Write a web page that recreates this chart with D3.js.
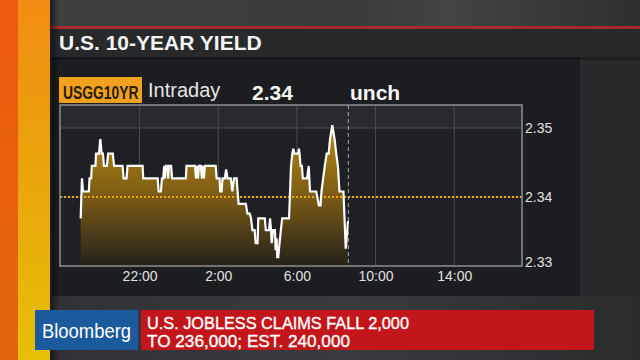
<!DOCTYPE html>
<html><head><meta charset="utf-8">
<script src="https://cdn.jsdelivr.net/npm/d3@7"></script>
<style>html,body{margin:0;padding:0;background:#2c2d30;overflow:hidden}svg{display:block}</style>
</head><body>
<svg id="c" width="640" height="360"></svg>
<script>
// ---- data ----
const times = ["19:00","19:04","19:07","19:25","19:27","19:32","19:34","19:45","19:47","19:56",
"20:00","20:04","20:08","20:11","20:20","20:24","20:38","20:42","21:08","21:11",
"21:20","21:23","22:09","22:11","22:55","22:58","23:05","23:08","23:12","23:15",
"23:17","23:20","23:25","23:27","23:29","23:36","23:39","00:21","00:23","00:49",
"00:52","00:55","00:58","01:01","01:07","01:10","01:13","01:16","01:19","01:52",
"01:55","02:04","02:06","02:10","02:13","02:20","02:24","02:28","02:38","02:43",
"02:48","02:56","02:59","03:02","03:24","03:29","03:36","03:40","03:44","03:51",
"03:54","04:00","04:02","04:22","04:25","04:35","04:38","04:41","04:43","04:47",
"04:53","04:55","04:58","05:00","05:03","05:07","05:11","05:15","05:36","05:42",
"05:46","05:49","05:52","06:04","06:06","06:08","06:11","06:15","06:18","06:31",
"06:36","06:40","06:59","07:07","07:12","07:15","07:25","07:31","07:37","07:41",
"07:48","07:55","08:00","08:05","08:10","08:22","08:29","08:36"];
const yields = [2.3369,2.3427,2.3408,2.3408,2.3427,2.3427,2.3445,2.3445,2.3463,2.3463,
2.3484,2.3463,2.3463,2.3445,2.3445,2.3463,2.3463,2.3445,2.3445,2.3427,
2.3427,2.3445,2.3445,2.3427,2.3427,2.3408,2.3408,2.3427,2.3427,2.3445,
2.3427,2.3445,2.3445,2.3427,2.3445,2.3445,2.3427,2.3427,2.3445,2.3445,
2.3427,2.3445,2.3427,2.3445,2.3445,2.3427,2.3445,2.3427,2.3445,2.3445,
2.3427,2.3427,2.3408,2.3408,2.3427,2.3427,2.3440,2.3427,2.3427,2.3408,
2.3427,2.3427,2.3408,2.3390,2.3390,2.3376,2.3376,2.3369,2.3352,2.3352,
2.3333,2.3333,2.3369,2.3369,2.3352,2.3352,2.3369,2.3352,2.3333,2.3352,
2.3352,2.3323,2.3340,2.3313,2.3313,2.3333,2.3352,2.3369,2.3369,2.3445,
2.3463,2.3470,2.3463,2.3463,2.3470,2.3463,2.3445,2.3445,2.3427,2.3427,
2.3445,2.3408,2.3408,2.3388,2.3388,2.3408,2.3445,2.3463,2.3463,2.3484,
2.3504,2.3484,2.3463,2.3445,2.3408,2.3408,2.3325,2.3365];
const xTickLabels = ["22:00","2:00","6:00","10:00","14:00"];
const yTickValues = [2.33, 2.34, 2.35];
const prevClose = 2.34;
const nowTime = "08:37";
const sessionStart = "18:00", sessionEnd = "17:30";
const titleText = "U.S. 10-YEAR YIELD";
const tickerText = "USGG10YR";
const periodText = "Intraday";
const lastText = "2.34";
const changeText = "unch";
const brandText = "Bloomberg";
const headlineLines = ["U.S. JOBLESS CLAIMS FALL 2,000", "TO 236,000; EST. 240,000"];

// ---- helpers ----
const parseT = s => { const [h, m] = s.split(":").map(Number); return new Date(2017, 0, h >= 18 ? 1 : 2, h, m); };
const data = times.map((t, i) => ({ t: parseT(t), v: yields[i] }));
const FONT = "'Liberation Sans', Arial, Helvetica, sans-serif";

const svg = d3.select("#c");
const defs = svg.append("defs");

function lin(id, x1, y1, x2, y2, stops, user) {
  const g = defs.append("linearGradient").attr("id", id)
    .attr("x1", x1).attr("y1", y1).attr("x2", x2).attr("y2", y2);
  if (user) g.attr("gradientUnits", "userSpaceOnUse");
  stops.forEach(([o, c, a]) => g.append("stop").attr("offset", o).attr("stop-color", c).attr("stop-opacity", a == null ? 1 : a));
}
lin("bgG", 0, 0, 1, 0, [[0, "#36373a"], [0.5, "#333437"], [1, "#2a2b2d"]]);
lin("topG", 0, 0, 1, 0, [[0, "#3e3f41"], [0.55, "#3a3b3d"], [0.7, "#434446"], [1, "#2e2f31"]]);
lin("orG", 0, 0, 0, 1, [[0, "#ee5a0e"], [1, "#e2660e"]]);
lin("yeG", 0, 0, 0, 1, [[0, "#f08c12"], [0.5, "#eaa60c"], [1, "#e6bf06"]]);
lin("shG", 0, 0, 1, 0, [[0, "#000", 0.55], [1, "#000", 0]]);
lin("botG", 0, 0, 1, 0, [[0, "#313235"], [0.5, "#3a3b3e"], [1, "#2a2b2d"]]);
lin("fillG", 0, 125, 0, 266, [[0, "#b88814"], [0.5, "#7c5c14"], [1, "#24221c"]], true);

// ---- backdrop ----
svg.append("rect").attr("width", 640).attr("height", 360).attr("fill", "url(#bgG)");
svg.append("rect").attr("width", 640).attr("height", 27).attr("fill", "url(#topG)");
svg.append("rect").attr("x", 580).attr("y", 57).attr("width", 60).attr("height", 240).attr("fill", "#28292b");
svg.append("rect").attr("x", 52).attr("y", 296).attr("width", 588).attr("height", 64).attr("fill", "url(#botG)");
svg.append("rect").attr("x", 52).attr("y", 57).attr("width", 528).attr("height", 239).attr("fill", "#1c1d20");
svg.append("rect").attr("x", 50).attr("y", 26).attr("width", 590).attr("height", 3).attr("fill", "#a8292a");
svg.append("rect").attr("x", 52).attr("y", 29).attr("width", 588).attr("height", 28).attr("fill", "#28292b");
svg.append("rect").attr("x", 52).attr("y", 57).attr("width", 588).attr("height", 3).attr("fill", "#000").attr("opacity", 0.25);

// left stripes
svg.append("rect").attr("x", 0).attr("width", 18).attr("height", 360).attr("fill", "url(#orG)");
svg.append("rect").attr("x", 18).attr("width", 32).attr("height", 360).attr("fill", "url(#yeG)");
svg.append("rect").attr("x", 50).attr("width", 9).attr("height", 360).attr("fill", "url(#shG)");

// title
svg.append("text").attr("x", 59).attr("y", 50).attr("font-family", FONT).attr("font-weight", "bold")
  .attr("font-size", 21).attr("fill", "#f4f4f4").text(titleText);

// ---- header row ----
svg.append("rect").attr("x", 59).attr("y", 77).attr("width", 83).attr("height", 26).attr("fill", "#f0a11e");
svg.append("text").attr("transform", "translate(63,99) scale(0.73,1)").attr("font-family", FONT).attr("font-weight", "bold")
  .attr("font-size", 19).attr("fill", "#2a1c06").text(tickerText);
svg.append("text").attr("x", 148).attr("y", 97).attr("font-family", FONT).attr("font-size", 20)
  .attr("fill", "#e6e6e6").text(periodText);
svg.append("text").attr("x", 252).attr("y", 100).attr("font-family", FONT).attr("font-weight", "bold")
  .attr("font-size", 21).attr("fill", "#f6f6f6").text(lastText);
svg.append("text").attr("x", 350).attr("y", 100).attr("font-family", FONT).attr("font-weight", "bold")
  .attr("font-size", 21).attr("fill", "#f6f6f6").text(changeText);

// ---- chart ----
const L = 60, R = 522, T = 105, B = 266;
const x = d3.scaleTime().domain([parseT(sessionStart), parseT(sessionEnd)]).range([L + 1, R + 1]);
const y = d3.scaleLinear().domain([2.33, 2.35]).range([B, 128]);

svg.append("rect").attr("x", L).attr("y", T).attr("width", R - L).attr("height", y(2.35) - T).attr("fill", "#292a2e");
svg.append("rect").attr("x", L).attr("y", y(2.35)).attr("width", R - L).attr("height", B - y(2.35)).attr("fill", "#1f2023");

const xTicks = xTickLabels.map(parseT);
svg.append("g").selectAll("line").data(xTicks).join("line")
  .attr("x1", d => x(d)).attr("x2", d => x(d)).attr("y1", T).attr("y2", B)
  .attr("stroke", "#4b4c50").attr("stroke-width", 1);
svg.append("g").selectAll("line").data(yTickValues.filter(v => v > 2.33)).join("line")
  .attr("x1", L).attr("x2", R).attr("y1", d => y(d)).attr("y2", d => y(d))
  .attr("stroke", "#4b4c50").attr("stroke-width", 1);

const area = d3.area().x(d => x(d.t)).y0(B).y1(d => y(d.v));
svg.append("path").datum(data).attr("d", area).attr("fill", "url(#fillG)");

svg.append("line").attr("x1", L).attr("x2", R).attr("y1", y(prevClose)).attr("y2", y(prevClose))
  .attr("stroke", "#f2a516").attr("stroke-width", 2).attr("stroke-dasharray", "2,2");

const line = d3.line().x(d => x(d.t)).y(d => y(d.v));
svg.append("path").datum(data).attr("d", line).attr("fill", "none")
  .attr("stroke", "#ffffff").attr("stroke-width", 2.2).attr("stroke-linejoin", "miter");

const nowX = x(parseT(nowTime));
svg.append("line").attr("x1", nowX).attr("x2", nowX).attr("y1", T).attr("y2", B)
  .attr("stroke", "#a8a8a8").attr("stroke-width", 1).attr("stroke-dasharray", "4,3");

svg.append("rect").attr("x", L).attr("y", T).attr("width", R - L).attr("height", B - T)
  .attr("fill", "none").attr("stroke", "#8e8e8e").attr("stroke-width", 1.5);

// axes
const xa = svg.append("g").attr("transform", `translate(0,${B})`)
  .call(d3.axisBottom(x).tickValues(xTicks).tickFormat(d3.timeFormat("%-H:%M")).tickSize(0).tickPadding(5));
xa.select(".domain").remove();
xa.selectAll("text").attr("font-family", FONT).attr("font-size", 14).attr("fill", "#e2e2e2");

const ya = svg.append("g").attr("transform", `translate(${R},0)`)
  .call(d3.axisRight(y).tickValues(yTickValues).tickFormat(d3.format(".2f")).tickSize(0).tickPadding(3));
ya.select(".domain").remove();
ya.selectAll("text").attr("font-family", FONT).attr("font-size", 14).attr("fill", "#e2e2e2")
  .attr("dy", d => d === 2.33 ? "0.05em" : "0.35em");

// ---- bottom banner ----
svg.append("rect").attr("x", 35).attr("y", 310).attr("width", 103).attr("height", 40).attr("fill", "#1b5a9c");
svg.append("text").attr("x", 86.5).attr("y", 338).attr("text-anchor", "middle").attr("font-family", FONT)
  .attr("font-size", 20).attr("fill", "#ffffff").attr("textLength", 89).attr("lengthAdjust", "spacingAndGlyphs").text(brandText);
svg.append("rect").attr("x", 141).attr("y", 310).attr("width", 453).attr("height", 40).attr("fill", "#c2161b");
const hlW = [262, 203];
headlineLines.forEach((s, i) => {
  svg.append("text").attr("x", 147).attr("y", 328.5 + i * 18.5).attr("font-family", FONT)
    .attr("font-size", 16.5).attr("fill", "#ffffff").attr("stroke", "#ffffff").attr("stroke-width", 0.35)
    .attr("textLength", hlW[i]).attr("lengthAdjust", "spacingAndGlyphs").text(s);
});
</script>
</body></html>
